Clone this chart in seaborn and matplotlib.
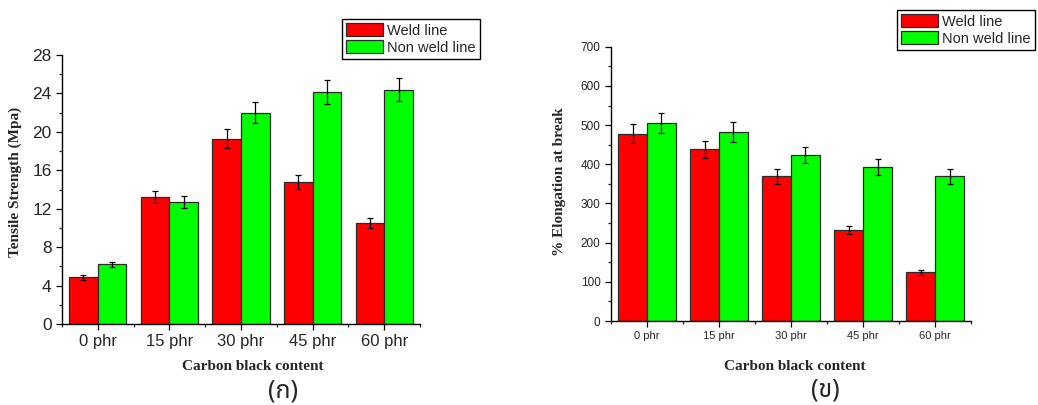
import pandas as pd
import numpy as np
import matplotlib
matplotlib.use("Agg")
import matplotlib.pyplot as plt
import seaborn as sns
from matplotlib.ticker import MultipleLocator, FixedLocator

# data
contents = ["0 phr", "15 phr", "30 phr", "45 phr", "60 phr"]
series = ["Weld line", "Non weld line"]

tensile_weld = [4.85, 13.25, 19.3, 14.75, 10.5]
tensile_weld_err = [0.27, 0.65, 1.0, 0.72, 0.55]
tensile_non = [6.2, 12.75, 22.0, 24.2, 24.4]
tensile_non_err = [0.3, 0.62, 1.1, 1.25, 1.23]

elong_weld = [478, 438, 369, 232, 124]
elong_weld_err = [24, 22, 18, 11, 7]
elong_non = [505, 483, 424, 394, 370]
elong_non_err = [25, 25, 21, 20, 19]

colors = {"Weld line": "#FF0000", "Non weld line": "#00FF00"}

sns.set_style("ticks")
plt.rcParams["font.family"] = ["Liberation Sans", "DejaVu Sans"]

fig = plt.figure(figsize=(10.38, 4.05), dpi=100)
ax1 = fig.add_axes([0.0597, 0.200, 0.345, 0.664])
ax2 = fig.add_axes([0.5886, 0.2074, 0.347, 0.677])


def draw(ax, weld, weld_err, non, non_err, ymax, major, minor, xfs, yfs, leg_box):
    df = pd.DataFrame({
        "content": contents * 2,
        "series": [series[0]] * len(contents) + [series[1]] * len(contents),
        "value": weld + non,
        "err": weld_err + non_err,
    })
    sns.barplot(data=df, x="content", y="value", hue="series", palette=colors,
                order=contents, hue_order=series, errorbar=None, width=0.8,
                edgecolor="#2a2a2a", linewidth=0.9, saturation=1, ax=ax)
    # error bars at the bar centres drawn by seaborn
    bars = [p for p in ax.patches if p.get_height() > 0][:len(df)]
    for p, e in zip(bars, df["err"]):
        ax.errorbar(p.get_x() + p.get_width() / 2, p.get_height(), yerr=e,
                    color="black", capsize=2.5, elinewidth=0.9, capthick=0.9)
    ax.set_xlim(-0.5, len(contents) - 0.5)
    ax.set_ylim(0, ymax)
    ax.yaxis.set_major_locator(MultipleLocator(major))
    ax.yaxis.set_minor_locator(MultipleLocator(minor))
    ax.xaxis.set_minor_locator(FixedLocator(np.arange(-0.5, len(contents), 1.0)))
    ax.tick_params(axis="both", which="major", direction="out", length=4, width=0.9,
                   color="black")
    ax.tick_params(axis="x", which="major", labelsize=xfs)
    ax.tick_params(axis="y", which="major", labelsize=yfs)
    ax.tick_params(axis="both", which="minor", direction="out", length=2.5, width=0.9)
    for s in ["top", "right"]:
        ax.spines[s].set_visible(False)
    for s in ["left", "bottom"]:
        ax.spines[s].set_linewidth(1.0)
        ax.spines[s].set_color("black")
    ax.set_xlabel("")
    ax.set_ylabel("")
    ax.legend_.remove()
    handles = [plt.Rectangle((0, 0), 1, 1, facecolor=colors[s], edgecolor="#2a2a2a", linewidth=0.9)
               for s in series]
    fig.legend(handles, series, loc="upper left", bbox_to_anchor=leg_box,
               frameon=True, fancybox=False, edgecolor="black", framealpha=1,
               fontsize=10.5, handlelength=2.5, handleheight=1.0, handletextpad=0.3,
               borderpad=0.3, labelspacing=0.15, borderaxespad=0)


draw(ax1, tensile_weld, tensile_weld_err, tensile_non, tensile_non_err,
     28, 4, 2, 12, 12.5, (342 / 1038, 1 - 19 / 405))
draw(ax2, elong_weld, elong_weld_err, elong_non, elong_non_err,
     700, 100, 50, 8, 8.5, (897 / 1038, 1 - 10 / 405))

serif_bold = dict(family=["Liberation Serif", "DejaVu Serif"], fontweight="bold")
fig.text(15 / 1038, 1 - 182 / 405, "Tensile Strength (Mpa)", rotation=90,
         ha="center", va="center", fontsize=11, **serif_bold)
fig.text(253 / 1038, 1 - 367 / 405, "Carbon black content",
         ha="center", va="center", fontsize=11, **serif_bold)
fig.text(559 / 1038, 1 - 182 / 405, "% Elongation at break", rotation=90,
         ha="center", va="center", fontsize=11, **serif_bold)
fig.text(795 / 1038, 1 - 367 / 405, "Carbon black content",
         ha="center", va="center", fontsize=11, **serif_bold)

thai = ["Noto Sans Thai", "Noto Serif Thai", "Loma", "Garuda", "Norasi", "Kinnari",
        "FreeSerif", "FreeSans", "DejaVu Sans"]
fig.text(283 / 1038, 1 - 391 / 405, "(ก)", ha="center", va="center", fontsize=18, family=thai)
fig.text(825 / 1038, 1 - 390 / 405, "(ข)", ha="center", va="center", fontsize=18, family=thai)

fig.savefig("out.png", dpi=100)
